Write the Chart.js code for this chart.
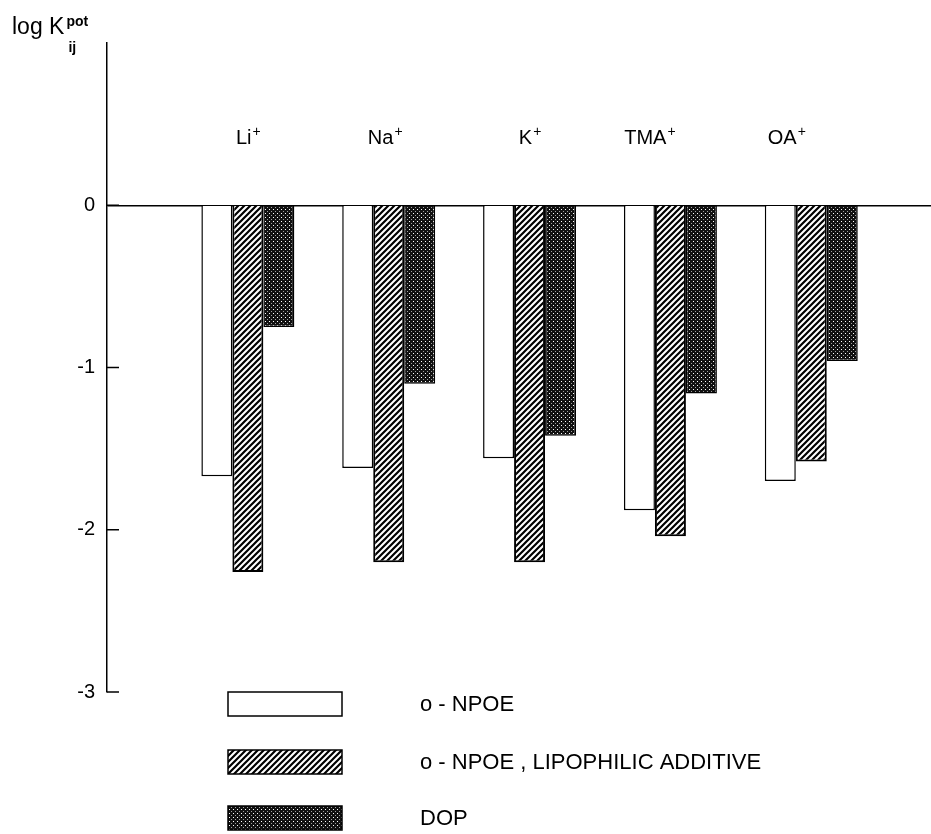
<!DOCTYPE html>
<html>
<head>
<meta charset="utf-8">
<script src="https://cdn.jsdelivr.net/npm/chart.js@4.4.1/dist/chart.umd.min.js"></script>
<style>
  html, body { margin: 0; padding: 0; background: #fff; }
</style>
</head>
<body>
<canvas id="chart" width="931" height="834"></canvas>
<script>
// ions on the x axis, one group of three bars each
const ions = ['Li+', 'Na+', 'K+', 'TMA+', 'OA+'];
const seriesNames = ['o - NPOE', 'o - NPOE , LIPOPHILIC ADDITIVE', 'DOP'];
// log K values
const npoe = [-1.67, -1.62, -1.56, -1.88, -1.70];
const npoeAdditive = [-2.26, -2.20, -2.20, -2.04, -1.58];
const dop = [-0.75, -1.10, -1.42, -1.16, -0.96];
const yTicks = [-3, -2, -1, 0];

const FONT = "'Liberation Sans', Arial, sans-serif";

function hatchPattern() {
    const c = document.createElement('canvas');
    c.width = 6; c.height = 6;
    const g = c.getContext('2d');
    g.fillStyle = '#fff';
    g.fillRect(0, 0, 6, 6);
    g.strokeStyle = '#000';
    g.lineWidth = 2.2;
    g.beginPath();
    g.moveTo(-1, 1); g.lineTo(1, -1);
    g.moveTo(-1, 7); g.lineTo(7, -1);
    g.moveTo(5, 7); g.lineTo(7, 5);
    g.stroke();
    return g.createPattern(c, 'repeat');
}

function dotPattern() {
    const c = document.createElement('canvas');
    c.width = 4; c.height = 4;
    const g = c.getContext('2d');
    g.fillStyle = '#111';
    g.fillRect(0, 0, 4, 4);
    g.fillStyle = '#fff';
    g.fillRect(1, 1, 1, 1);
    g.fillStyle = 'rgba(255,255,255,0.6)';
    g.fillRect(3, 3, 1, 1);
    return g.createPattern(c, 'repeat');
}

const toPoints = arr => arr.map((v, i) => ({ x: i + 1, y: v }));

// draw "Li+" style text with the charge raised
function drawIon(ctx, text, cx, cy) {
    const base = text.replace(/\+$/, '');
    ctx.font = '20px ' + FONT;
    const wb = ctx.measureText(base).width;
    ctx.font = '14px ' + FONT;
    const ws = ctx.measureText('+').width;
    const x0 = cx - (wb + ws) / 2;
    ctx.textBaseline = 'alphabetic';
    ctx.textAlign = 'left';
    ctx.font = '20px ' + FONT;
    ctx.fillText(base, x0, cy + 7);
    ctx.font = '14px ' + FONT;
    ctx.fillText('+', x0 + wb + 1, cy - 1);
}

const decorations = {
    id: 'decorations',
    afterDraw(chart) {
        const { ctx, chartArea, scales: { x, y } } = chart;
        ctx.save();
        ctx.fillStyle = '#000';
        ctx.strokeStyle = '#000';

        // short inward tick marks
        ctx.lineWidth = 1.5;
        yTicks.forEach(v => {
            const py = y.getPixelForValue(v);
            ctx.beginPath();
            ctx.moveTo(chartArea.left, py);
            ctx.lineTo(chartArea.left + 12, py);
            ctx.stroke();
        });

        // ion names above each group
        const shift = [0, -4, 0, -21, -25];
        ions.forEach((name, i) => {
            drawIon(ctx, name, x.getPixelForValue(i + 1) + shift[i], y.getPixelForValue(0.42));
        });

        // axis title: log K (pot, ij)
        ctx.textAlign = 'left';
        ctx.textBaseline = 'alphabetic';
        ctx.font = '23px ' + FONT;
        ctx.fillText('log K', 12, 34);
        const wk = ctx.measureText('log K').width;
        ctx.font = 'bold 14px ' + FONT;
        ctx.fillText('pot', 12 + wk + 2, 26);
        ctx.fillText('ij', 12 + wk + 4, 52);

        // legend, stacked under the plot
        const tops = [692, 750, 806];
        chart.data.datasets.forEach((ds, i) => {
            ctx.fillStyle = ds.backgroundColor;
            ctx.fillRect(228, tops[i], 114, 24);
            ctx.lineWidth = 1.5;
            ctx.strokeRect(228, tops[i], 114, 24);
            ctx.fillStyle = '#000';
            ctx.font = '22px ' + FONT;
            ctx.textBaseline = 'middle';
            ctx.fillText(ds.label, 420, tops[i] + 13);
        });
        ctx.restore();
    }
};

const chart = new Chart(document.getElementById('chart'), {
    type: 'bar',
    data: {
        datasets: [
            { label: seriesNames[0], data: toPoints(npoe), backgroundColor: '#fff', borderColor: '#000', borderWidth: 1.5 },
            { label: seriesNames[1], data: toPoints(npoeAdditive), backgroundColor: hatchPattern(), borderColor: '#000', borderWidth: 2 },
            { label: seriesNames[2], data: toPoints(dop), backgroundColor: dotPattern(), borderColor: '#000', borderWidth: 1.5 }
        ]
    },
    options: {
        responsive: false,
        animation: false,
        layout: { padding: { top: 43, right: 0, bottom: 142, left: 0 } },
        datasets: { bar: { categoryPercentage: 0.66, barPercentage: 1 } },
        plugins: { legend: { display: false }, tooltip: { enabled: false } },
        scales: {
            x: {
                type: 'linear',
                min: 0,
                max: 5.85,
                offset: false,
                display: false,
                afterBuildTicks: s => { s.ticks = ions.map((_, i) => ({ value: i + 1 })); }
            },
            y: {
                min: -3,
                max: 1,
                afterBuildTicks: s => { s.ticks = yTicks.map(v => ({ value: v })); },
                afterFit: s => { s.width = 107; },
                border: { display: true, color: '#000', width: 1.5 },
                grid: {
                    drawTicks: false,
                    lineWidth: 1.5,
                    color: c => (c.tick && c.tick.value === 0 ? '#000' : 'rgba(0,0,0,0)')
                },
                ticks: {
                    color: '#000',
                    padding: 12,
                    font: { family: FONT, size: 20 },
                    callback: v => String(v)
                }
            }
        }
    },
    plugins: [decorations]
});
</script>
</body>
</html>
